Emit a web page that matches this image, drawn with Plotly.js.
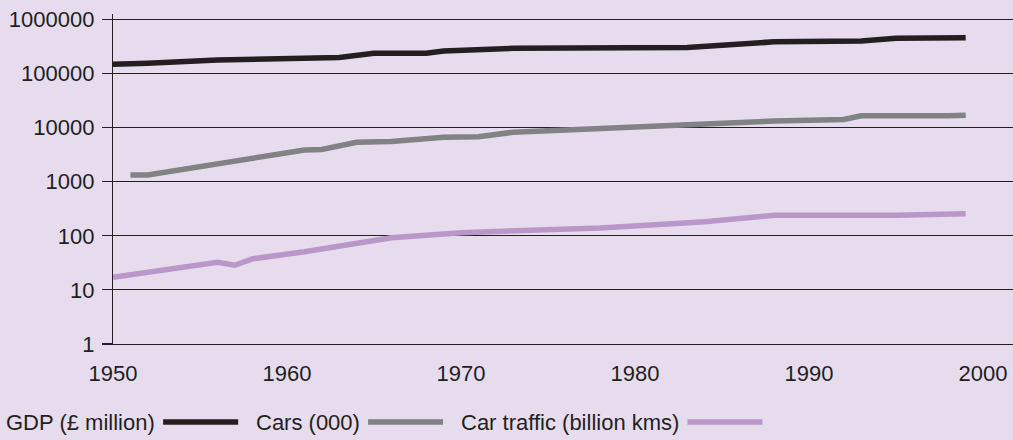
<!DOCTYPE html>
<html><head><meta charset="utf-8">
<script src="https://cdn.plot.ly/plotly-3.0.1.min.js"></script>
<style>html,body{margin:0;padding:0;background:#e6dced;}</style>
</head><body><div id="chart" style="width:1013px;height:440px;"></div>
<script>
// GDP (£ million)
const gdpYears  = [1950, 1952, 1956, 1963, 1965, 1968, 1969, 1971, 1973, 1983, 1988, 1993, 1995, 1999];
const gdpValues = [148000, 154000, 177000, 197000, 237000, 237000, 260000, 270000, 292000, 304000, 385000, 400000, 450000, 456000];
// Cars (000)
const carYears  = [1951, 1952, 1961, 1962, 1964, 1966, 1969, 1971, 1973, 1975, 1977, 1988, 1992, 1993, 1998, 1999];
const carValues = [1330, 1330, 3870, 3950, 5370, 5510, 6640, 6810, 8220, 8800, 9450, 13200, 14100, 16600, 16600, 17000];
// Car traffic (billion kms)
const trafficYears  = [1950, 1956, 1957, 1958, 1961, 1964, 1965, 1966, 1970, 1976, 1978, 1984, 1987, 1988, 1995, 1999];
const trafficValues = [17.2, 32.5, 28.6, 37.5, 50.8, 70.8, 81.6, 91.7, 114, 131, 140, 181, 218, 240, 240, 255];

const seriesNames = ["GDP (£ million)", "Cars (000)", "Car traffic (billion kms)"];
const seriesColors = ["#231f20", "#808284", "#b998c9"];
const xTicks = [1950, 1960, 1970, 1980, 1990, 2000];
const yTicks = [1, 10, 100, 1000, 10000, 100000, 1000000];
const yTickText = ["1", "10", "100", "1000", "10000", "100000", "1000000"];

const FONT = "Liberation Sans, Arial, Helvetica, sans-serif";
const FS = 22;
const INK = "#231f20";
const BG = "#e6dced";

const W = 1013, H = 440;
const mL = 113, mR = 0, mT = 14, mB = 96;
const pw = W - mL - mR, ph = H - mT - mB;

const xs = [gdpYears, carYears, trafficYears];
const ys = [gdpValues, carValues, trafficValues];
const traces = xs.map((x, i) => ({
  type: "scatter", mode: "lines", x: x, y: ys[i], name: seriesNames[i],
  line: {color: seriesColors[i], width: 5.5}, showlegend: false, hoverinfo: "skip"
}));

// custom legend: text first, then line sample
const ctx = document.createElement("canvas").getContext("2d");
ctx.font = FS + "px " + FONT;
const annotations = [], shapes = [];
let px = 4;
const legY = 422;
const toPX = p => (p - mL) / pw;
const toPY = p => (mT + ph - p) / ph;
seriesNames.forEach((n, i) => {
  const w = ctx.measureText(n).width;
  annotations.push({xref: "paper", yref: "paper", x: toPX(px), y: toPY(legY), xanchor: "left", yanchor: "middle",
    text: n, showarrow: false, font: {family: FONT, size: FS, color: INK}});
  px += w + 10;
  shapes.push({type: "line", xref: "paper", yref: "paper", x0: toPX(px), x1: toPX(px + 75), y0: toPY(legY), y1: toPY(legY),
    line: {color: seriesColors[i], width: 5.5}});
  px += 75 + 16;
});

const layout = {
  width: W, height: H,
  margin: {l: mL, r: mR, t: mT, b: mB, pad: 0},
  paper_bgcolor: BG, plot_bgcolor: BG,
  font: {family: FONT, size: FS, color: INK},
  xaxis: {range: [1950, 2001.72], tickvals: xTicks, ticktext: xTicks.map(String), showgrid: false,
    zeroline: false, showline: true, linecolor: INK, linewidth: 1.2, ticks: "", ticklabelstandoff: 9,
    tickfont: {family: FONT, size: FS, color: INK}},
  yaxis: {type: "log", range: [0, 6.1], tickvals: yTicks, ticktext: yTickText, showgrid: true,
    gridcolor: INK, gridwidth: 1.2, zeroline: false, showline: true, linecolor: INK, linewidth: 1.2,
    ticks: "outside", ticklen: 10, tickwidth: 1.2, tickcolor: INK, ticklabelstandoff: 3,
    tickfont: {family: FONT, size: FS, color: INK}},
  annotations: annotations, shapes: shapes, showlegend: false
};
Plotly.newPlot("chart", traces, layout, {displayModeBar: false, staticPlot: true});
</script></body></html>
